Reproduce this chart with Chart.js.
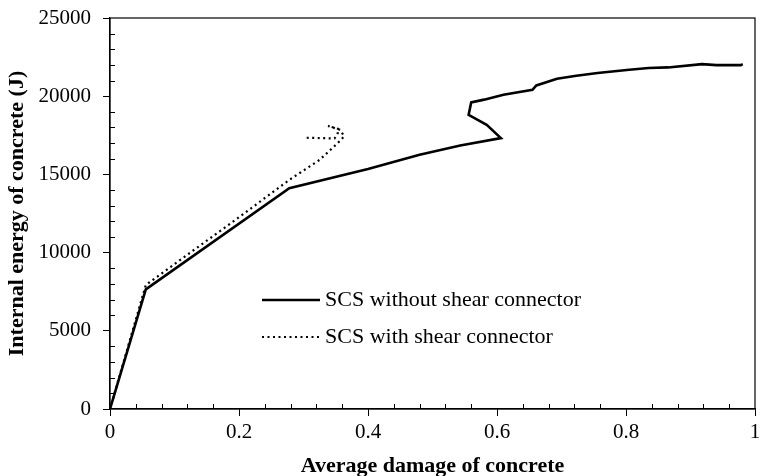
<!DOCTYPE html>
<html>
<head>
<meta charset="utf-8">
<script src="https://cdn.jsdelivr.net/npm/chart.js@4.4.1/dist/chart.umd.min.js"></script>
<style>
  html, body { margin: 0; padding: 0; background: #fff; }
  #wrap { width: 760px; height: 476px; }
</style>
</head>
<body>
<div id="wrap"><canvas id="energyChart" width="760" height="476"></canvas></div>
<script>
// SCS without shear connector
var withoutX = [0, 0.0555, 0.278, 0.40, 0.48, 0.543, 0.606, 0.584, 0.556, 0.560, 0.580, 0.610, 0.655, 0.661, 0.693, 0.723, 0.756, 0.805, 0.835, 0.865, 0.918, 0.940, 0.978, 0.981];
var withoutY = [0, 7650, 14120, 15350, 16250, 16850, 17320, 18170, 18810, 19600, 19780, 20090, 20410, 20690, 21120, 21310, 21480, 21690, 21800, 21840, 22050, 21990, 21990, 22050];

// SCS with shear connector
var withX = [0, 0.0555, 0.198, 0.278, 0.325, 0.353, 0.363, 0.357, 0.338, 0.355, 0.352, 0.348, 0.300];
var withY = [0, 7930, 12200, 14650, 15930, 17000, 17430, 17850, 18100, 17900, 17500, 17300, 17350];

var xTicks = [0, 0.2, 0.4, 0.6, 0.8, 1];
var yTicks = [0, 5000, 10000, 15000, 20000, 25000];
var xMinorStep = 0.04;
var yMinorStep = 1000;

var seriesNames = ['SCS without shear connector', 'SCS with shear connector'];

var serif = "'Liberation Serif', 'Times New Roman', serif";

function toPoints(xs, ys) {
	return xs.map(function(x, i) { return { x: x, y: ys[i] }; });
}

// frame box + inward minor ticks
var framePlugin = {
	id: 'frame',
	afterDatasetsDraw: function(chart) {
		var ctx = chart.ctx, a = chart.chartArea;
		var sx = chart.scales.x, sy = chart.scales.y;
		ctx.save();
		ctx.strokeStyle = '#000';
		ctx.lineWidth = 1.2;
		ctx.strokeRect(a.left, a.top, a.right - a.left, a.bottom - a.top);
		ctx.lineWidth = 1;
		ctx.beginPath();
		var i, v, p;
		for (i = 1; i * xMinorStep < 1; i++) {
			v = i * xMinorStep;
			if (i % 5 === 0) continue;
			p = Math.round(sx.getPixelForValue(v)) + 0.5;
			ctx.moveTo(p, a.bottom);
			ctx.lineTo(p, a.bottom - 5);
		}
		for (i = 1; i * yMinorStep < 25000; i++) {
			v = i * yMinorStep;
			if (i % 5 === 0) continue;
			p = Math.round(sy.getPixelForValue(v)) + 0.5;
			ctx.moveTo(a.left, p);
			ctx.lineTo(a.left + 5, p);
		}
		ctx.stroke();
		ctx.restore();
	}
};

// legend drawn inside the plot area
var innerLegend = {
	id: 'innerLegend',
	afterDatasetsDraw: function(chart) {
		var ctx = chart.ctx;
		var x0 = 262, x1 = 320, rows = [300, 337];
		ctx.save();
		chart.data.datasets.forEach(function(ds, i) {
			var y = rows[i];
			ctx.strokeStyle = ds.borderColor;
			ctx.lineWidth = ds.borderWidth;
			ctx.setLineDash(ds.borderDash || []);
			ctx.beginPath();
			ctx.moveTo(x0, y);
			ctx.lineTo(x1, y);
			ctx.stroke();
			ctx.setLineDash([]);
			ctx.fillStyle = '#000';
			ctx.font = '22px ' + serif;
			ctx.textBaseline = 'middle';
			ctx.fillText(ds.label, 325, y);
		});
		ctx.restore();
	}
};

var ctx = document.getElementById('energyChart').getContext('2d');
var myChart = new Chart(ctx, {
	type: 'line',
	data: {
		datasets: [{
			label: seriesNames[0],
			data: toPoints(withoutX, withoutY),
			borderColor: '#000',
			borderWidth: 2.6,
			pointRadius: 0,
			tension: 0,
			fill: false
		}, {
			label: seriesNames[1],
			data: toPoints(withX, withY),
			borderColor: '#000',
			borderWidth: 2.2,
			borderDash: [2, 3.5],
			pointRadius: 0,
			tension: 0,
			fill: false
		}]
	},
	options: {
		responsive: false,
		animation: false,
		layout: { padding: { top: 18, right: 5, left: 0, bottom: 0 } },
		plugins: {
			legend: { display: false },
			tooltip: { enabled: false }
		},
		scales: {
			x: {
				type: 'linear',
				min: 0,
				max: 1,
				afterBuildTicks: function(s) { s.ticks = xTicks.map(function(v) { return { value: v }; }); },
				afterFit: function(s) { s.height = 67; s.paddingLeft = 0; s.paddingRight = 0; },
				grid: { drawOnChartArea: false, drawTicks: true, tickLength: 7, color: '#000', lineWidth: 1 },
				border: { display: true, color: '#000', width: 1.2 },
				ticks: {
					color: '#000',
					padding: 4,
					maxRotation: 0,
					font: { family: serif, size: 21 },
					callback: function(v) { return String(v); }
				},
				title: {
					display: true,
					text: 'Average damage of concrete',
					color: '#000',
					font: { family: serif, size: 22, weight: 'bold', lineHeight: 1 },
					padding: { top: 0, bottom: -1 }
				}
			},
			y: {
				type: 'linear',
				min: 0,
				max: 25000,
				afterBuildTicks: function(s) { s.ticks = yTicks.map(function(v) { return { value: v }; }); },
				afterFit: function(s) { s.width = 110; s.paddingTop = 0; s.paddingBottom = 0; },
				grid: { drawOnChartArea: false, drawTicks: true, tickLength: 7, color: '#000', lineWidth: 1 },
				border: { display: true, color: '#000', width: 1.2 },
				ticks: {
					color: '#000',
					padding: 12,
					font: { family: serif, size: 21 },
					callback: function(v) { return String(v); }
				},
				title: {
					display: true,
					text: 'Internal energy of concrete (J)',
					color: '#000',
					font: { family: serif, size: 22, weight: 'bold', lineHeight: 1 },
					padding: { top: 6, bottom: 0 }
				}
			}
		}
	},
	plugins: [framePlugin, innerLegend]
});
</script>
</body>
</html>
